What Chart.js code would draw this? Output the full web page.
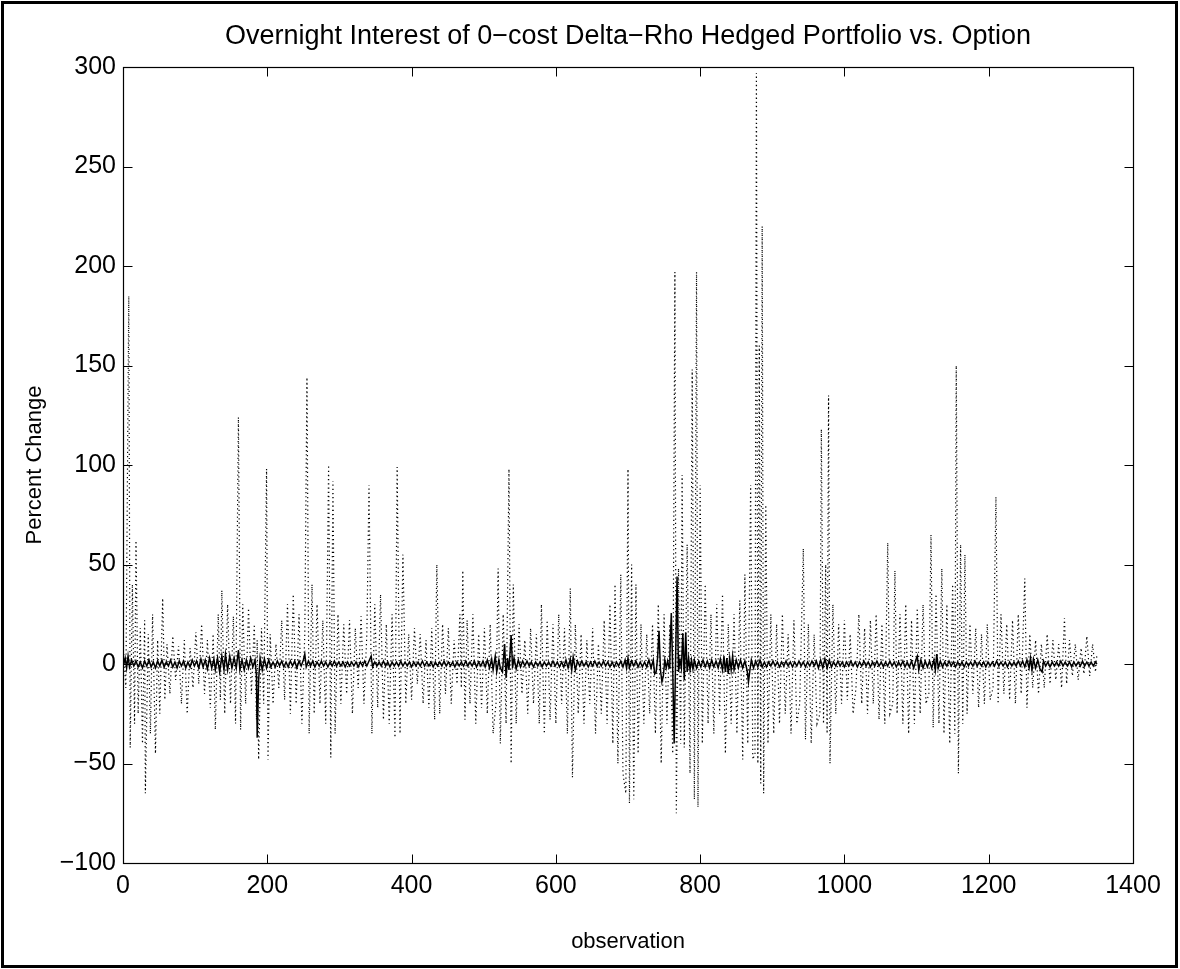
<!DOCTYPE html>
<html>
<head>
<meta charset="utf-8">
<script src="https://cdn.jsdelivr.net/npm/chart.js@4.4.0/dist/chart.umd.min.js"></script>
<style>
  html, body { margin: 0; padding: 0; background: #fff; }
  #wrap { width: 1180px; height: 969px; }
</style>
</head>
<body>
<div id="wrap"><canvas id="myChart" width="1180" height="969"></canvas></div>
<script>
// tick labels
var xTicks = [0, 200, 400, 600, 800, 1000, 1200, 1400];
var yTicks = [-100, -50, 0, 50, 100, 150, 200, 250, 300];
var chartTitle = "Overnight Interest of 0\u2212cost Delta\u2212Rho Hedged Portfolio vs. Option";

// option: percent change, [observation, value]
var optionPartA = [
  [1,5],[4,-12],[8,185],[10,-42],[13,40],[16,-30],[18,62],[21,-25],[24,18],[27,-40],[30,22],[31,-65],
  [35,15],[38,-35],[41,25],[45,-45],[48,12],[51,-25],[55,33],[58,-18],[61,10],[65,-15],[69,14],[73,-8],
  [77,9],[81,-20],[85,12],[89,-25],[93,8],[97,-12],[101,16],[105,-10],[109,20],[113,-15],[117,12],
  [121,-22],[125,15],[128,-33],[132,25],[135,-18],[137,37],[141,-25],[145,30],[149,-20],[153,24],
  [156,-30],[160,124],[163,-33],[166,30],[170,-20],[174,28],[178,-15],[182,20],[185,-28],[186,12],
  [188,-48],[192,18],[195,-20],[199,98],[201,-48],[204,15],[208,-20],[212,10],[216,-12],[220,22],
  [224,-18],[228,30],[232,-25],[236,35],[240,-20],[244,25],[248,-30],[252,15],[255,144],[258,-35],
  [262,40],[265,-25],[269,30],[273,-20],[277,22],[281,-30],[285,100],[288,-47],[291,92],[294,-35],
  [298,25],[302,-20],[306,20],[310,-15],[314,22],[318,-25],[322,18],[326,-12],[330,24],[334,-20],
  [338,15],[341,90],[345,-35],[349,30]
];
var optionPartB = [
  [353,-22],[357,35],[361,-28],[365,20],[369,-30],[373,25],[377,-37],[380,99],[384,-35],[388,55],
  [392,-20],[396,15],[400,-18],[404,18],[408,-10],[412,15],[416,-20],[420,12],[424,-22],[428,18],
  [432,-28],[435,50],[439,-25],[443,20],[447,-15],[451,18],[455,-20],[459,12],[463,-10],[467,25],
  [469,-12],[471,47],[474,-28],[477,22],[481,-20],[485,25],[489,-30],[493,15],[497,-22],[501,18],
  [505,-25],[509,20],[513,-35],[517,-20],[520,48],[523,-40],[527,25],[531,-30],[535,98],[538,-50],
  [541,40],[545,-30],[549,20],[553,-15],[557,12],[561,-25],[565,18],[569,-20],[573,15],[577,-30],
  [580,30],[584,-35],[588,22],[592,-28],[596,20],[600,-30],[604,25],[608,-20],[612,18],[616,-35],
  [620,38],[623,-57],[627,20],[631,-25],[635,15],[639,-30],[643,12],[647,-20],[651,18],[655,-35],
  [659,10],[663,-25],[667,22],[671,-30],[675,30],[679,-40],[682,40],[686,-50],[690,45],[693,-55],
  [697,-65],[700,98],[702,-70]
];
var optionPartC = [
  [705,50],[708,-68],[711,40],[714,-45],[718,20],[722,-30],[726,15],[730,-25],[734,20],[738,-35],
  [742,30],[746,-50],[750,25],[754,-30],[758,20],[762,-45],[765,197],[767,-75],[770,48],[773,-40],
  [775,95],[778,-42],[782,60],[786,-55],[789,148],[792,-68],[795,197],[797,-72],[800,90],[803,-40],
  [807,40],[811,-30],[815,25],[819,-35],[823,30],[827,-25],[831,35],[835,-45],[839,20],[843,-30],
  [847,25],[851,-35],[855,32],[859,-48],[862,45],[866,-40],[870,90],[873,-48],[876,-45],[878,297],
  [880,-50],[882,160],[884,-60],[886,220],[888,-65],[891,80],[894,-40],[898,25],[902,-35],[906,20],
  [910,-30],[914,25],[918,-25],[922,15],[926,-35],[930,22],[934,-30],[938,-20],[943,58],[946,-38],
  [950,20],[954,-40],[958,15],[962,-30],[966,-25],[968,118],[971,-30],[974,50],[976,-35],[978,135],
  [980,-50],[984,30],[988,-25],[992,20],[996,-20],[1000,22],[1004,-18],[1008,15],[1012,-25]
];
var optionPartD = [
  [1016,-12],[1020,25],[1024,-20],[1028,18],[1032,-25],[1036,22],[1040,-20],[1044,25],[1048,-28],
  [1052,20],[1056,-30],[1060,61],[1063,-25],[1067,-20],[1070,47],[1073,-25],[1077,25],[1081,-30],
  [1085,30],[1089,-35],[1093,22],[1097,-30],[1101,28],[1105,-25],[1109,30],[1113,-20],[1117,-15],
  [1120,65],[1123,-32],[1127,35],[1131,-30],[1135,48],[1138,-35],[1142,30],[1146,-40],[1150,40],
  [1153,-35],[1155,150],[1158,-55],[1161,60],[1164,-30],[1167,55],[1170,-25],[1174,20],[1178,-15],
  [1182,18],[1186,-22],[1190,15],[1194,-20],[1198,20],[1202,-18],[1206,-12],[1210,84],[1213,-20],
  [1217,25],[1221,-15],[1225,20],[1229,-18],[1233,22],[1237,-20],[1241,25],[1245,-15],[1250,43],
  [1253,-22],[1257,15],[1261,-12],[1265,12],[1269,-15],[1273,10],[1277,-12],[1281,15],[1285,-10],
  [1289,12],[1293,-8],[1297,10],[1301,-12],[1305,23],[1308,-10],[1312,12],[1316,-6],[1320,10],
  [1324,-8],[1328,8],[1332,-5],[1336,14],[1340,-6],[1344,10],[1348,-4],[1350,5]
];

// 0-cost delta-rho hedged portfolio (solid trace)
var hedgedPartA = [
  [1,0],[3,3],[5,-2],[7,4],[9,-1.5],[12,2],[15,-1],[18,1.5],[21,-1.5],[24,1],[27,-2],[30,1.5],
  [33,-1],[36,2],[39,-1.5],[42,1],[45,-2],[48,1.5],[51,-1],[54,2],[57,-1.5],[60,1],[63,-1],[66,2],
  [69,-1.5],[72,1],[75,-2],[78,1.5],[81,-1],[84,1.5],[87,-2],[90,1],[93,-1.5],[96,2],[99,-1],
  [102,1.5],[105,-2],[108,2.5],[111,-1.5],[114,2],[117,-2.5],[120,3],[123,-2],[126,2.5],[128,-3],
  [131,3],[134,-4],[137,4],[140,-3],[142,5],[145,-3],[148,4],[151,-2],[154,3],[157,-2],[160,7],
  [162,-3],[165,2],[168,-3],[171,2],[174,-2],[177,3],[180,-1.5],[183,2],[185,-6],[186,-37],
  [188,-8],[190,3],[193,-3],[196,2.5],[199,-2],[202,2],[205,-1.5],[208,1],[211,-1.5],[214,1.5],
  [217,-1],[220,1.5],[223,-1.5],[226,1],[229,-1.5],[232,1.5],[235,-1],[238,1.5],[241,-2],[244,1.5],
  [247,-1],[250,2],[252,5],[254,-1.5],[257,1.5],[260,-1],[263,1.5],[266,-1.5],[269,1],[272,-1],
  [275,1.5],[278,-1],[281,1],[284,-1.5],[287,1],[290,-1],[293,1.5],[296,-1],[299,1],[302,-1],
  [305,1],[308,-1.5],[311,1],[314,-1],[317,1],[320,-1],[323,1],[326,-1.5],[329,1],[332,-1],
  [335,1.5],[338,-1],[341,1.5],[344,4],[346,-1.5],[349,1]
];
var hedgedPartB = [
  [352,-1],[355,1],[358,-1],[361,1.5],[364,-1],[367,1],[370,-1.5],[373,1],[376,-1],[379,1],
  [382,-1],[385,1.5],[388,-1],[391,1],[394,-1],[397,1],[400,-1.5],[403,1],[406,-1],[409,1],
  [412,-1],[415,1.5],[418,-1],[421,1],[424,-1],[427,1],[430,-1.5],[433,1],[436,-1],[439,1],
  [442,-1],[445,1.5],[448,-1],[451,1],[454,-1],[457,1],[460,-1.5],[463,1],[466,-1],[469,1],
  [472,-1],[475,1.5],[478,-1],[481,1],[484,-1],[487,1.5],[490,-1.5],[493,1],[496,-1],[499,1.5],
  [502,-1.5],[505,2],[508,-2],[511,2.5],[513,-3],[516,4],[518,-4],[521,2],[523,-2],[526,-4],
  [529,10],[531,-7],[533,3],[535,-3],[538,14.5],[540,-2],[542,3],[545,-2.5],[548,2],[551,-1.5],
  [554,1.5],[557,-1],[560,1.5],[563,-1],[566,1],[569,-1.5],[572,1],[575,-1],[578,1],[581,-1.5],
  [584,1],[587,-1],[590,1],[593,-1],[596,1.5],[599,-1],[602,1],[605,-1.5],[608,1],[611,-1.5],
  [614,2],[617,-2],[620,2.5],[622,-3],[624,3.5],[627,-3],[630,1.5],[633,-1],[636,1.5],[639,-1],
  [642,1],[645,-1.5],[648,1],[651,-1],[654,1.5],[657,-1],[660,1],[663,-1],[666,1.5],[669,-1],
  [672,1],[675,-1.5],[678,1],[681,-1.5],[684,1],[687,-1],[690,1.5],[693,-1.5],[696,2]
];
var hedgedPartC = [
  [698,-2],[700,3],[702,-2],[705,1.5],[708,-1],[711,1.5],[714,-1.5],[717,1],[720,-1.5],[723,1],
  [726,-1.5],[729,2],[732,-2],[735,2],[737,-5],[739,-4],[741,3],[743,16.7],[745,-3],[747,-9],
  [749,-6],[751,2],[753,-2],[755,1.5],[757,-2],[758,4],[760,25.6],[762,-3],[764,-40],[766,3],
  [768,44],[770,-4],[772,2],[774,-2],[776,15.5],[778,-8],[780,16],[782,-4],[784,3],[786,-3],
  [788,2],[790,-2.5],[792,2],[795,-2],[798,1.5],[801,-1.5],[804,2],[807,-1.5],[810,1.5],[813,-2],
  [816,2],[819,-1.5],[822,1.5],[825,-2],[828,2.5],[831,-3],[833,4],[835,-4],[837,3],[839,-5],
  [841,3],[843,-3],[845,4],[847,-3],[850,2],[853,-2],[856,2],[859,-2],[862,1.5],[865,-3],
  [867,-9],[869,-3],[871,2],[874,-2],[877,1.5],[880,-1.5],[883,2],[886,-1.5],[889,1],[892,-1.5],
  [895,1],[898,-1],[901,1.5],[904,-1],[907,1],[910,-1.5],[913,1],[916,-1],[919,1.5],[922,-1],
  [925,1],[928,-1.5],[931,1],[934,-1],[937,1.5],[940,-1],[943,1],[946,-1.5],[949,1],[952,-1],
  [955,1.5],[958,-1],[961,1.5],[964,-2],[967,2],[970,-2],[973,2.5],[976,-2],[979,2],[982,-1.5],
  [985,1],[988,-1],[991,1.5],[994,-1],[997,1]
];
var hedgedPartD = [
  [1000,-1.5],[1003,1],[1006,-1],[1009,1.5],[1012,-1],[1015,1],[1018,-1.5],[1021,1],[1024,-1],
  [1027,1.5],[1030,-1],[1033,1],[1036,-1.5],[1039,1],[1042,-1],[1045,1.5],[1048,-1],[1051,1],
  [1054,-1.5],[1057,1],[1060,-1],[1063,1.5],[1066,-1],[1069,1],[1072,-1.5],[1075,1],[1078,-1],
  [1081,1.5],[1084,-1.5],[1087,1],[1090,-1.5],[1093,1.5],[1096,-2],[1099,2],[1101,4],[1103,-3],
  [1106,2],[1109,-2],[1112,1.5],[1115,-1.5],[1118,1.5],[1121,-2],[1124,2],[1126,-3],[1128,5],
  [1130,-2],[1133,1.5],[1136,-1.5],[1139,1],[1142,-1],[1145,1.5],[1148,-1],[1151,1],[1154,-1.5],
  [1157,1],[1160,-1],[1163,1],[1166,-1.5],[1169,1],[1172,-1],[1175,1],[1178,-1],[1181,1.5],
  [1184,-1],[1187,1],[1190,-1],[1193,1],[1196,-1.5],[1199,1],[1202,-1],[1205,1],[1208,-1],
  [1211,1.5],[1214,-1],[1217,1],[1220,-1],[1223,1],[1226,-1.5],[1229,1],[1232,-1],[1235,1],
  [1238,-1],[1241,1.5],[1244,-1],[1247,1.5],[1250,-1.5],[1253,2],[1256,-2],[1258,3],[1260,-3],
  [1262,2.5],[1265,-2],[1268,2],[1271,-2.5],[1274,-4],[1276,1.5],[1279,-1],[1282,1],[1285,-1.5],
  [1288,1],[1291,-1],[1294,1],[1297,-1],[1300,1.5],[1303,-1],[1306,1],[1309,-1],[1312,1],
  [1315,-1.5],[1318,1],[1321,-1],[1324,1],[1327,-1],[1330,1.5],[1333,-1],[1336,1],[1339,-1],
  [1342,1],[1345,-1],[1348,1],[1350,0]
];

function toPoints(parts) {
  var out = [];
  parts.forEach(function (p) {
    p.forEach(function (d) { out.push({ x: d[0], y: d[1] }); });
  });
  return out;
}

var FONT = '"Liberation Sans", Arial, Helvetica, sans-serif';
function minusSign(v) { return String(v).replace('-', '\u2212'); }

// box round the axes, inward ticks on all four sides, title over the box, figure frame
var matlabBox = {
  id: 'matlabBox',
  afterDraw: function (chart) {
    var ctx = chart.ctx, a = chart.chartArea;
    var xs = chart.scales.x, ys = chart.scales.y;
    var L = Math.round(a.left) + 0.5, R = Math.round(a.right) + 0.5;
    var T = Math.round(a.top) + 0.5, B = Math.round(a.bottom) + 0.5;
    ctx.save();
    ctx.strokeStyle = '#000';
    ctx.lineWidth = 1.2;
    ctx.strokeRect(L, T, R - L, B - T);
    ctx.lineWidth = 1;
    ctx.beginPath();
    xTicks.forEach(function (v) {
      var px = Math.round(xs.getPixelForValue(v)) + 0.5;
      ctx.moveTo(px, B); ctx.lineTo(px, B - 9);
      ctx.moveTo(px, T); ctx.lineTo(px, T + 9);
    });
    yTicks.forEach(function (v) {
      var py = Math.round(ys.getPixelForValue(v)) + 0.5;
      ctx.moveTo(L, py); ctx.lineTo(L + 9, py);
      ctx.moveTo(R, py); ctx.lineTo(R - 9, py);
    });
    ctx.stroke();

    ctx.fillStyle = '#000';
    ctx.font = '27px ' + FONT;
    ctx.textAlign = 'center';
    ctx.textBaseline = 'middle';
    ctx.fillText(chartTitle, (a.left + a.right) / 2, 37);

    ctx.lineWidth = 3;
    ctx.strokeRect(2.5, 2.5, 1174, 964);
    ctx.restore();
  }
};

new Chart("myChart", {
  type: "line",
  data: {
    datasets: [{
      label: "Hedged Portfolio",
      data: toPoints([hedgedPartA, hedgedPartB, hedgedPartC, hedgedPartD]),
      borderColor: "#000000",
      borderWidth: 1.5,
      pointRadius: 0,
      tension: 0,
      order: 0
    }, {
      label: "Option",
      data: toPoints([optionPartA, optionPartB, optionPartC, optionPartD]),
      borderColor: "#000000",
      borderWidth: 1.2,
      borderDash: [1.2, 3],
      pointRadius: 0,
      tension: 0,
      order: 1
    }]
  },
  options: {
    responsive: false,
    animation: false,
    layout: { padding: { left: 0, right: 0, top: 67, bottom: 0 } },
    plugins: {
      legend: { display: false },
      tooltip: { enabled: false },
      title: { display: false }
    },
    scales: {
      x: {
        type: "linear",
        min: 0, max: 1400,
        afterBuildTicks: function (s) { s.ticks = xTicks.map(function (v) { return { value: v }; }); },
        afterFit: function (s) { s.height = 106; },
        grid: { display: false, drawTicks: false },
        border: { display: false },
        ticks: {
          color: "#000", padding: 8,
          font: { family: FONT, size: 25 },
          maxRotation: 0,
          callback: function (v) { return minusSign(v); }
        },
        title: {
          display: true, text: "observation", color: "#000",
          font: { family: FONT, size: 22 },
          padding: { top: 0, bottom: 14 }
        }
      },
      y: {
        min: -100, max: 300,
        afterBuildTicks: function (s) { s.ticks = yTicks.map(function (v) { return { value: v }; }); },
        afterFit: function (s) { s.width = 123; },
        grid: { display: false, drawTicks: false },
        border: { display: false },
        ticks: {
          color: "#000", padding: 7,
          font: { family: FONT, size: 25 },
          callback: function (v) { return minusSign(v); }
        },
        title: {
          display: true, text: "Percent Change", color: "#000",
          font: { family: FONT, size: 22 },
          padding: { top: 22, bottom: 0 }
        }
      },
      yRight: {
        position: "right",
        min: -100, max: 300,
        afterFit: function (s) { s.width = 47; },
        grid: { display: false, drawTicks: false },
        border: { display: false },
        ticks: { display: false }
      }
    }
  },
  plugins: [matlabBox]
});
</script>
</body>
</html>
